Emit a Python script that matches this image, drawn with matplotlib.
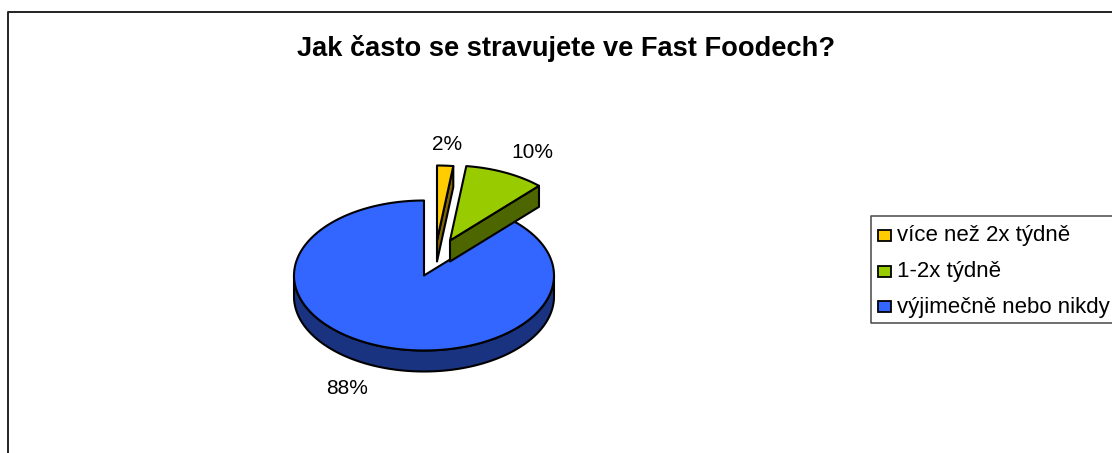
import numpy as np
import matplotlib
matplotlib.use('Agg')
import matplotlib.pyplot as plt
from matplotlib.patches import Polygon, Rectangle

plt.rcParams['font.family'] = ['Liberation Sans', 'DejaVu Sans']

title = 'Jak často se stravujete ve Fast Foodech?'
categories = ['více než 2x týdně', '1-2x týdně', 'výjimečně nebo nikdy']
shares = [2, 10, 88]

top_colors = ['#FFCC00', '#99CC00', '#3366FF']
side_colors = ['#806600', '#4D6600', '#1A3380']

# pie layout in pixels: centre, radii, thickness of the 3d rim
cx, cy = 424, 275.5
rx, ry = 130, 75
depth = 21
# how far each slice is pulled out of the pie
offsets = [(13, -35), (26, -35), (0, 0)]
label_pos = [(447, 144), (532, 153), (347, 389)]


def arc(a1, a2, dx, dy):
    # points on the ellipse going from angle a1 to a2 (degrees)
    t = np.radians(np.linspace(a1, a2, 200))
    return np.column_stack([cx + dx + rx*np.cos(t), cy + dy - ry*np.sin(t)])


f = plt.figure(figsize=(11.12, 4.53), dpi=100)
ax = f.add_axes([0, 0, 1, 1])
ax.set_xlim(0, 1112)
ax.set_ylim(453, 0)
ax.axis('off')

# outer chart frame, runs off the right and bottom edge
ax.plot([1120, 7.5, 7.5], [11.5, 11.5, 460], color='#222222', lw=1.4)

ax.text(566, 49, title, ha='center', va='center', fontsize=19.6, fontweight='bold', color='black')

edges = 90 - np.cumsum([0] + shares)*3.6
for i in [2, 1, 0]:
    a1, a2 = edges[i], edges[i+1]
    dx, dy = offsets[i]
    top = arc(a1, a2, dx, dy)
    apex = np.array([[cx + dx, cy + dy]])
    shift = np.array([0, depth])

    if i == 2:
        # the rim is only seen along the front half of the big slice
        front = arc(-180, 0, dx, dy)
        rim = np.vstack([front, front[::-1] + shift])
    else:
        # cut face on the clockwise side of the pulled out slices
        corner = top[-1:]
        rim = np.vstack([apex, corner, corner + shift, apex + shift])
    ax.add_patch(Polygon(rim, closed=True, fc=side_colors[i], ec='black', lw=1.5, joinstyle='round'))
    ax.add_patch(Polygon(np.vstack([apex, top]), closed=True, fc=top_colors[i], ec='black', lw=1.5, joinstyle='round'))

for share, (x, y) in zip(shares, label_pos):
    ax.text(x, y, '%d%%' % share, ha='center', va='center', fontsize=15, color='black')

# legend box, its right side is cut off by the figure edge
ax.plot([1120, 870.5, 870.5, 1120], [215.5, 215.5, 323, 323], color='#555555', lw=1.2)
for name, color, y in zip(categories, top_colors, [235.5, 271.5, 306.5]):
    ax.add_patch(Rectangle((878, y - 5.5), 12.5, 11, fc=color, ec='black', lw=1.3))
    ax.text(897, y + 0.5, name, ha='left', va='center', fontsize=16, color='black')

plt.savefig('out.png', dpi=100)
plt.close('all')
